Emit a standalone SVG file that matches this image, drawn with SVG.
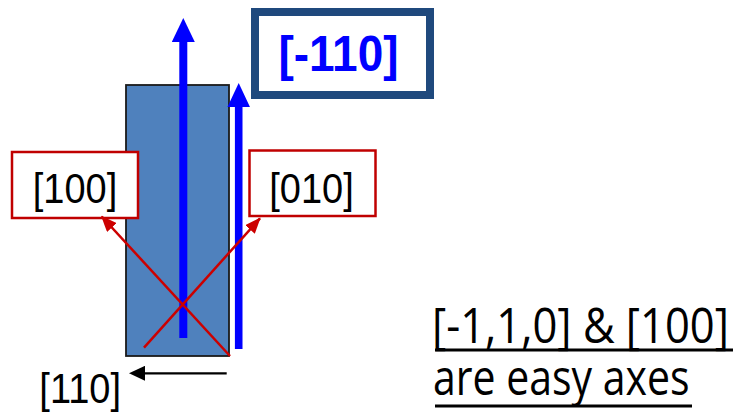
<svg xmlns="http://www.w3.org/2000/svg" width="741" height="417" viewBox="0 0 741 417">
<style>
.lbl{font-family:"Liberation Sans",Arial,sans-serif;font-size:38px;fill:#000;text-anchor:middle}
.rbox{fill:#fff;stroke:#C00000;stroke-width:2.5}
.red{stroke:#CC0000;stroke-width:2.5;fill:none}
.blue{stroke:#0000FF;fill:none}
.note{font-family:"Open Sans","Liberation Sans",sans-serif;font-size:50px;fill:#000}
</style>
<defs>
<marker id="bh1" markerUnits="userSpaceOnUse" markerWidth="24" markerHeight="23" refX="0" refY="11.5" orient="auto"><path d="M0,0 L24,11.5 L0,23 z" fill="#0000FF"/></marker>
<marker id="bh2" markerUnits="userSpaceOnUse" markerWidth="24" markerHeight="23" refX="0" refY="11.25" orient="auto"><path d="M0,0 L24,11.25 L0,22.5 z" fill="#0000FF"/></marker>
<marker id="rh" markerUnits="userSpaceOnUse" markerWidth="16" markerHeight="13" refX="15" refY="6.5" orient="auto"><path d="M0,0 L16,6.5 L0,13 z" fill="#CC0000"/></marker>
<marker id="kh" markerUnits="userSpaceOnUse" markerWidth="16" markerHeight="15" refX="0" refY="7.5" orient="auto"><path d="M0,0 L16,7.5 L0,15 z" fill="#000"/></marker>
</defs>
<g id="crystal"><rect x="126" y="85" width="103" height="271" fill="#4F81BD" stroke="#1a1a1a" stroke-width="1.8"/></g>
<g id="label-m110">
<rect x="255" y="12" width="175" height="83" fill="#fff" stroke="#1F497D" stroke-width="8"/>
<text transform="translate(338.5,70.5) scale(1,1.07)" font-family="'Liberation Sans',Arial,sans-serif" font-weight="bold" font-size="46" fill="#0000FF" text-anchor="middle">[-110]</text>
</g>
<g id="label-100">
<rect class="rbox" x="12" y="152" width="126" height="66"/>
<text class="lbl" transform="translate(75,203.3) scale(1,1.1)">[100]</text>
</g>
<g id="label-010">
<rect class="rbox" x="249.5" y="150.5" width="126" height="65.5"/>
<text class="lbl" transform="translate(311.5,203.3) scale(1,1.1)">[010]</text>
</g>
<g id="label-110">
<text class="lbl" transform="translate(80.2,403.3) scale(1,1.1)">[110]</text>
</g>
<g id="connectors">
<line class="blue" x1="183.3" y1="338" x2="183.3" y2="42" stroke-width="8" marker-end="url(#bh1)"/>
<line class="blue" x1="238.7" y1="349" x2="238.7" y2="107" stroke-width="7.6" marker-end="url(#bh2)"/>
<line class="red" x1="230" y1="356" x2="101.7" y2="216.5" marker-end="url(#rh)"/>
<line class="red" x1="144" y1="347.7" x2="260" y2="218.3" marker-end="url(#rh)"/>
<line x1="226.7" y1="373.3" x2="145" y2="373.3" stroke="#000" stroke-width="2.2" marker-end="url(#kh)"/>
</g>
<g id="note">
<text class="note" transform="translate(432,343) scale(0.87,1)">[-1,1,0] &amp; [100]</text>
<text class="note" transform="translate(433,395) scale(0.82,1)">are easy axes</text>
<line x1="435" y1="350" x2="733" y2="350" stroke="#000" stroke-width="3.2"/>
<line x1="435" y1="406" x2="692" y2="406" stroke="#000" stroke-width="3.2"/>
</g>
</svg>
